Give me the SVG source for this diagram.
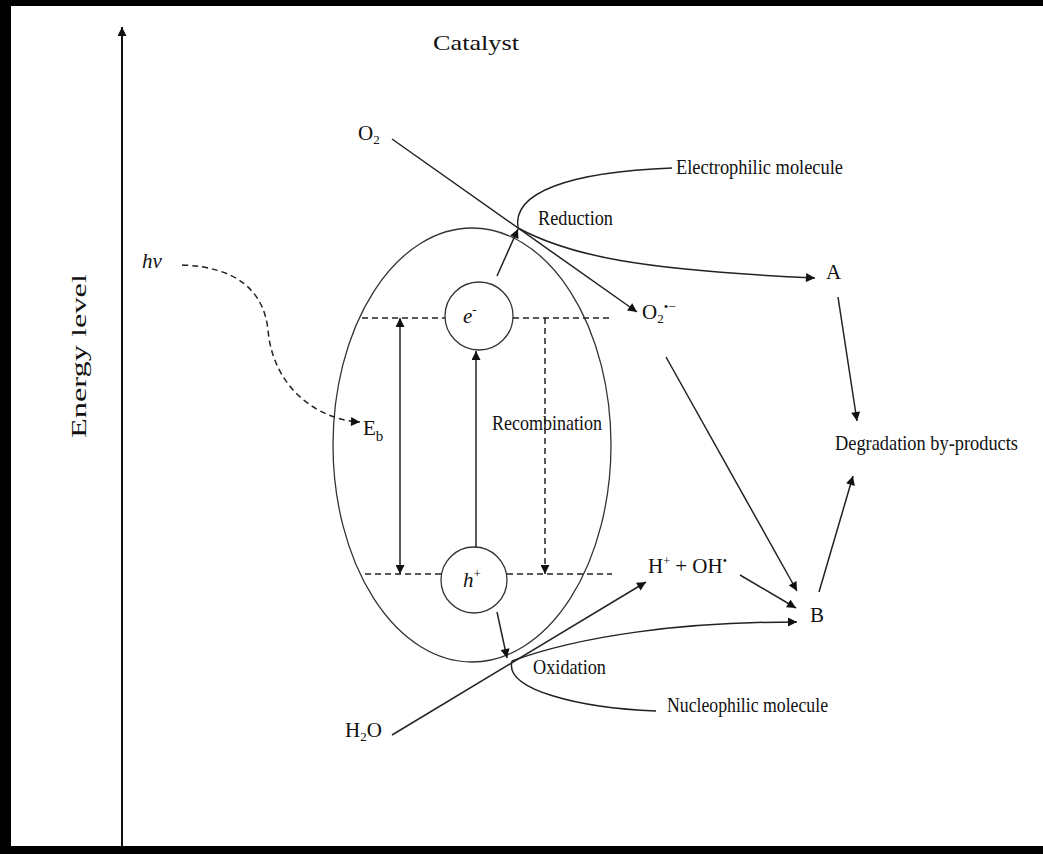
<svg xmlns="http://www.w3.org/2000/svg" width="1043" height="854" viewBox="0 0 1043 854">
<defs>
<marker id="ah" viewBox="0 0 10 10" refX="10" refY="5" markerWidth="10" markerHeight="9" markerUnits="userSpaceOnUse" orient="auto-start-reverse">
<path d="M0,0 L10,5 L0,10 z" fill="#111"/>
</marker>
<style>
.t{font-family:"Liberation Serif","Times New Roman",serif;fill:#111;font-size:21px}
.ln{fill:none;stroke:#222;stroke-width:1.5}
.ds{fill:none;stroke:#222;stroke-width:1.5;stroke-dasharray:6 4}
.sh{fill:none;stroke:#333;stroke-width:1.3}
</style>
</defs>
<rect x="0" y="0" width="1043" height="854" fill="#fff"/>
<g id="frame">
<rect x="0" y="0" width="1043" height="6" fill="#000"/>
<rect x="0" y="0" width="11" height="854" fill="#000"/>
<rect x="0" y="846" width="1043" height="8" fill="#000"/>
</g>
<g id="axis">
<line x1="122" y1="846" x2="122" y2="27" stroke="#111" stroke-width="2" marker-end="url(#ah)"/>
<text class="t" transform="translate(86,356) rotate(-90)" text-anchor="middle" font-size="29" textLength="164" lengthAdjust="spacingAndGlyphs">Energy level</text>
</g>
<g id="catalyst"><text class="t" x="433" y="50" font-size="28" textLength="86" lengthAdjust="spacingAndGlyphs">Catalyst</text></g>
<g id="particle">
<ellipse cx="472" cy="445" rx="139" ry="217" class="sh"/>
</g>
<g id="electron">
<circle cx="479" cy="316" r="34" fill="#fff" stroke="#333" stroke-width="1.3"/>
<text class="t" x="463" y="323" font-style="italic" font-size="22">e<tspan font-size="13" dy="-9">-</tspan></text>
</g>
<g id="hole">
<circle cx="474" cy="580" r="33" fill="#fff" stroke="#333" stroke-width="1.3"/>
<text class="t" x="463" y="587" font-style="italic" font-size="22">h<tspan font-size="13" dy="-9" font-style="normal">+</tspan></text>
</g>
<g id="hv"><text class="t" x="142" y="268" font-style="italic" font-size="27">hv</text></g>
<g id="eb"><text class="t" x="363" y="435" font-size="24">E<tspan font-size="15" dy="6">b</tspan></text></g>
<g id="recombination"><text class="t" x="492" y="430" font-size="22" textLength="110" lengthAdjust="spacingAndGlyphs">Recombination</text></g>
<g id="o2"><text class="t" x="358" y="140" font-size="22">O<tspan font-size="13" dy="4">2</tspan></text></g>
<g id="electrophilic"><text class="t" x="676" y="174" font-size="22" textLength="167" lengthAdjust="spacingAndGlyphs">Electrophilic molecule</text></g>
<g id="reduction"><text class="t" x="538" y="225" font-size="22" textLength="75" lengthAdjust="spacingAndGlyphs">Reduction</text></g>
<g id="a"><text class="t" x="826" y="279">A</text></g>
<g id="o2rad"><text class="t" x="642" y="319">O<tspan font-size="13" dy="4">2</tspan><tspan font-size="13" dy="-12">•−</tspan></text></g>
<g id="degradation"><text class="t" x="835" y="450" font-size="22" textLength="183" lengthAdjust="spacingAndGlyphs">Degradation by-products</text></g>
<g id="hoh"><text class="t" x="648" y="573">H<tspan font-size="12" dy="-8">+</tspan><tspan dy="8"> + OH</tspan><tspan font-size="12" dy="-8">•</tspan></text></g>
<g id="b"><text class="t" x="810" y="622">B</text></g>
<g id="oxidation"><text class="t" x="533" y="674" font-size="22" textLength="73" lengthAdjust="spacingAndGlyphs">Oxidation</text></g>
<g id="nucleophilic"><text class="t" x="667" y="712" font-size="22" textLength="161" lengthAdjust="spacingAndGlyphs">Nucleophilic molecule</text></g>
<g id="h2o"><text class="t" x="345" y="737">H<tspan font-size="13" dy="4">2</tspan><tspan dy="-4">O</tspan></text></g>
<g id="connectors">
<path class="ds" d="M182,265 C238,267 264,292 268,330 C273,388 318,420 360,422" marker-end="url(#ah)"/>
<line class="ds" x1="362" y1="318" x2="445" y2="318"/>
<line class="ds" x1="513" y1="318" x2="610" y2="318"/>
<line class="ds" x1="365" y1="574" x2="441" y2="574"/>
<line class="ds" x1="507" y1="574" x2="612" y2="574"/>
<line class="ln" x1="400" y1="318" x2="400" y2="574" marker-start="url(#ah)" marker-end="url(#ah)"/>
<line class="ln" x1="476" y1="547" x2="476" y2="351" marker-end="url(#ah)"/>
<line class="ds" x1="545" y1="318" x2="545" y2="574" marker-end="url(#ah)"/>
<line class="ln" x1="497" y1="276" x2="518" y2="229" marker-end="url(#ah)"/>
<line class="ln" x1="392" y1="139" x2="637" y2="312" marker-end="url(#ah)"/>
<path class="ln" d="M518,228 C512,192 570,172 672,168"/>
<path class="ln" d="M518,228 C570,256 640,270 815,278" marker-end="url(#ah)"/>
<line class="ln" x1="666" y1="357" x2="797" y2="591" marker-end="url(#ah)"/>
<line class="ln" x1="838" y1="297" x2="857" y2="421" marker-end="url(#ah)"/>
<line class="ln" x1="819" y1="592" x2="853" y2="476" marker-end="url(#ah)"/>
<line class="ln" x1="740" y1="575" x2="796" y2="608" marker-end="url(#ah)"/>
<line class="ln" x1="392" y1="735" x2="646" y2="582" marker-end="url(#ah)"/>
<line class="ln" x1="497" y1="612" x2="507" y2="658" marker-end="url(#ah)"/>
<path class="ln" d="M512,661 C580,636 680,622 797,622" marker-end="url(#ah)"/>
<path class="ln" d="M512,661 C504,690 580,708 656,711"/>
</g>
</svg>
